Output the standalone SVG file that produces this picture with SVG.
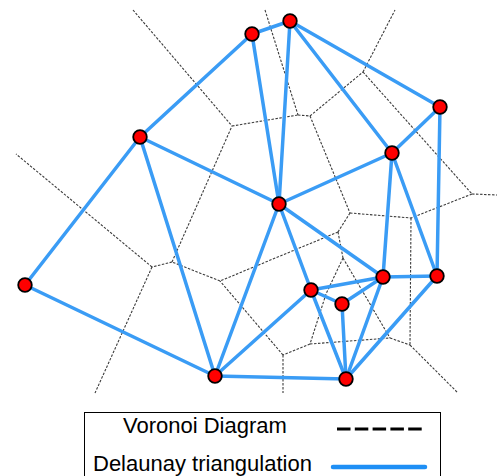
<svg xmlns="http://www.w3.org/2000/svg" width="500" height="476" viewBox="0 0 500 476">
  <style>
    .vor { fill: none; stroke: #3c3c3c; stroke-width: 1.1; stroke-dasharray: 2.5 1.5; }
    .del { fill: none; stroke: #3a9cf5; stroke-width: 3.5; stroke-linecap: round; }
    .site { fill: #ff0000; stroke: #000000; stroke-width: 1.8; }
    .lbl { font-family: "Liberation Sans", Arial, sans-serif; font-size: 22px; fill: #000000; }
  </style>
  <rect width="500" height="476" fill="#ffffff"/>

  <!-- Voronoi cell boundaries -->
  <g id="voronoi">
    <line class="vor" x1="133" y1="10" x2="232" y2="126"/>
    <line class="vor" x1="232" y1="126" x2="298" y2="115"/>
    <line class="vor" x1="265" y1="10" x2="298" y2="115"/>
    <line class="vor" x1="298" y1="115" x2="310" y2="116"/>
    <line class="vor" x1="310" y1="116" x2="363" y2="72"/>
    <line class="vor" x1="363" y1="72" x2="395" y2="10"/>
    <line class="vor" x1="363" y1="72" x2="472" y2="194"/>
    <line class="vor" x1="472" y1="194" x2="497" y2="195"/>
    <line class="vor" x1="472" y1="194" x2="411" y2="218"/>
    <line class="vor" x1="310" y1="116" x2="350" y2="213"/>
    <line class="vor" x1="350" y1="213" x2="411" y2="218"/>
    <line class="vor" x1="411" y1="218" x2="410" y2="345"/>
    <line class="vor" x1="350" y1="213" x2="338" y2="232"/>
    <line class="vor" x1="338" y1="232" x2="220" y2="281"/>
    <line class="vor" x1="338" y1="232" x2="343" y2="258"/>
    <polyline class="vor" points="343,258 326,294 310,344"/>
    <line class="vor" x1="343" y1="258" x2="390" y2="338"/>
    <line class="vor" x1="310" y1="344" x2="390" y2="338"/>
    <line class="vor" x1="390" y1="338" x2="410" y2="345"/>
    <line class="vor" x1="410" y1="345" x2="458" y2="393"/>
    <line class="vor" x1="310" y1="344" x2="283" y2="355"/>
    <line class="vor" x1="283" y1="355" x2="283" y2="393"/>
    <line class="vor" x1="283" y1="355" x2="220" y2="281"/>
    <line class="vor" x1="220" y1="281" x2="172" y2="262"/>
    <line class="vor" x1="172" y1="262" x2="232" y2="126"/>
    <line class="vor" x1="172" y1="262" x2="152" y2="267"/>
    <line class="vor" x1="152" y1="267" x2="16" y2="154"/>
    <line class="vor" x1="152" y1="267" x2="95" y2="393"/>
  </g>

  <!-- Delaunay triangulation edges -->
  <g id="connectors">
    <line class="del" x1="25" y1="285" x2="140" y2="137"/>
    <line class="del" x1="25" y1="285" x2="215" y2="376"/>
    <line class="del" x1="140" y1="137" x2="252" y2="34"/>
    <line class="del" x1="140" y1="137" x2="279" y2="204"/>
    <line class="del" x1="140" y1="137" x2="215" y2="376"/>
    <line class="del" x1="252" y1="34" x2="290" y2="21"/>
    <line class="del" x1="252" y1="34" x2="279" y2="204"/>
    <line class="del" x1="290" y1="21" x2="279" y2="204"/>
    <line class="del" x1="290" y1="21" x2="392" y2="153"/>
    <line class="del" x1="290" y1="21" x2="440" y2="107"/>
    <line class="del" x1="440" y1="107" x2="392" y2="153"/>
    <line class="del" x1="440" y1="107" x2="437" y2="276"/>
    <line class="del" x1="392" y1="153" x2="279" y2="204"/>
    <line class="del" x1="392" y1="153" x2="383" y2="277"/>
    <line class="del" x1="392" y1="153" x2="437" y2="276"/>
    <line class="del" x1="279" y1="204" x2="383" y2="277"/>
    <line class="del" x1="279" y1="204" x2="311" y2="290"/>
    <line class="del" x1="279" y1="204" x2="215" y2="376"/>
    <line class="del" x1="215" y1="376" x2="311" y2="290"/>
    <line class="del" x1="215" y1="376" x2="346" y2="379"/>
    <line class="del" x1="311" y1="290" x2="383" y2="277"/>
    <line class="del" x1="311" y1="290" x2="342" y2="304"/>
    <line class="del" x1="311" y1="290" x2="346" y2="379"/>
    <line class="del" x1="342" y1="304" x2="383" y2="277"/>
    <line class="del" x1="342" y1="304" x2="346" y2="379"/>
    <line class="del" x1="383" y1="277" x2="346" y2="379"/>
    <line class="del" x1="437" y1="276" x2="346" y2="379"/>
    <line class="del" x1="383" y1="277" x2="437" y2="276"/>
  </g>

  <!-- Sites -->
  <g id="site-a"><circle class="site" cx="252" cy="34" r="6.8"/></g>
  <g id="site-b"><circle class="site" cx="290" cy="21" r="6.8"/></g>
  <g id="site-c"><circle class="site" cx="440" cy="107" r="6.8"/></g>
  <g id="site-d"><circle class="site" cx="392" cy="153" r="6.8"/></g>
  <g id="site-e"><circle class="site" cx="140" cy="137" r="6.8"/></g>
  <g id="site-f"><circle class="site" cx="279" cy="204" r="6.8"/></g>
  <g id="site-g"><circle class="site" cx="25" cy="285" r="6.8"/></g>
  <g id="site-h"><circle class="site" cx="383" cy="277" r="6.8"/></g>
  <g id="site-i"><circle class="site" cx="437" cy="276" r="6.8"/></g>
  <g id="site-j"><circle class="site" cx="311" cy="290" r="6.8"/></g>
  <g id="site-k"><circle class="site" cx="342" cy="304" r="6.8"/></g>
  <g id="site-l"><circle class="site" cx="215" cy="376" r="6.8"/></g>
  <g id="site-m"><circle class="site" cx="346" cy="379" r="6.8"/></g>

  <!-- Legend -->
  <g id="legend">
    <rect x="84.5" y="412.5" width="356" height="72" fill="#ffffff" stroke="#000000" stroke-width="1"/>
    <text class="lbl" x="123" y="433">Voronoi Diagram</text>
    <line x1="337" y1="429" x2="422" y2="429" stroke="#000000" stroke-width="3" stroke-dasharray="13.5 4.3"/>
    <text class="lbl" x="93" y="471">Delaunay triangulation</text>
    <line x1="333" y1="467" x2="425" y2="467" stroke="#1e8ff5" stroke-width="4.5" stroke-linecap="round"/>
  </g>
</svg>
